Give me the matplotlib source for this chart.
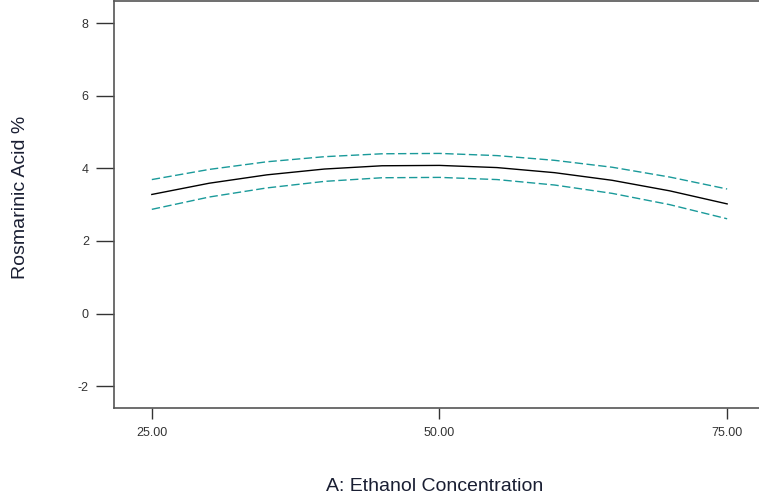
import matplotlib
matplotlib.use("Agg")
import matplotlib.pyplot as plt

# values
ethanol = [25, 30, 35, 40, 45, 50, 55, 60, 65, 70, 75]
rosmarinic = [3.28, 3.59, 3.82, 3.98, 4.07, 4.08, 4.02, 3.88, 3.67, 3.38, 3.02]
ci_upper = [3.69, 3.97, 4.18, 4.32, 4.40, 4.41, 4.35, 4.22, 4.03, 3.76, 3.43]
ci_lower = [2.87, 3.21, 3.46, 3.64, 3.74, 3.75, 3.69, 3.54, 3.31, 3.00, 2.61]

x_ticks = [25, 50, 75]
x_ticklabels = ['25.00', '50.00', '75.00']
y_ticks = [-2, 0, 2, 4, 6, 8]

plt.rcParams['font.family'] = ['Liberation Sans', 'DejaVu Sans']
plt.rcParams['axes.unicode_minus'] = False

fig = plt.figure(figsize=(7.59, 5.04), dpi=100)
ax = fig.add_axes([0.150, 0.1905, 0.852, 0.807])

teal = '#1a9a9a'
ax.plot(ethanol, ci_upper, color=teal, lw=1.0, dashes=(6, 2.5))
ax.plot(ethanol, ci_lower, color=teal, lw=1.0, dashes=(6, 2.5))
ax.plot(ethanol, rosmarinic, color='black', lw=1.0)

ax.set_xlim(21.7, 77.9)
ax.set_ylim(-2.6, 8.6)
ax.set_xticks(x_ticks)
ax.set_xticklabels(x_ticklabels)
ax.set_yticks(y_ticks)

ax.tick_params(axis='y', direction='out', length=13, width=1, pad=5,
               labelsize=9, colors='#333333')
ax.tick_params(axis='x', direction='out', length=8, width=1, pad=6,
               labelsize=9, colors='#333333')

for side in ['left', 'bottom', 'top']:
    ax.spines[side].set_color('#555555')
    ax.spines[side].set_linewidth(1.2)
ax.spines['right'].set_visible(False)

fig.text(0.027, 0.609, 'Rosmarinic Acid %', rotation=90, fontsize=14,
         color='#1a1f33', ha='center', va='center')
fig.text(0.573, 0.035, 'A: Ethanol Concentration', fontsize=14,
         color='#1a1f33', ha='center', va='center')

fig.savefig('out.png', dpi=100)
